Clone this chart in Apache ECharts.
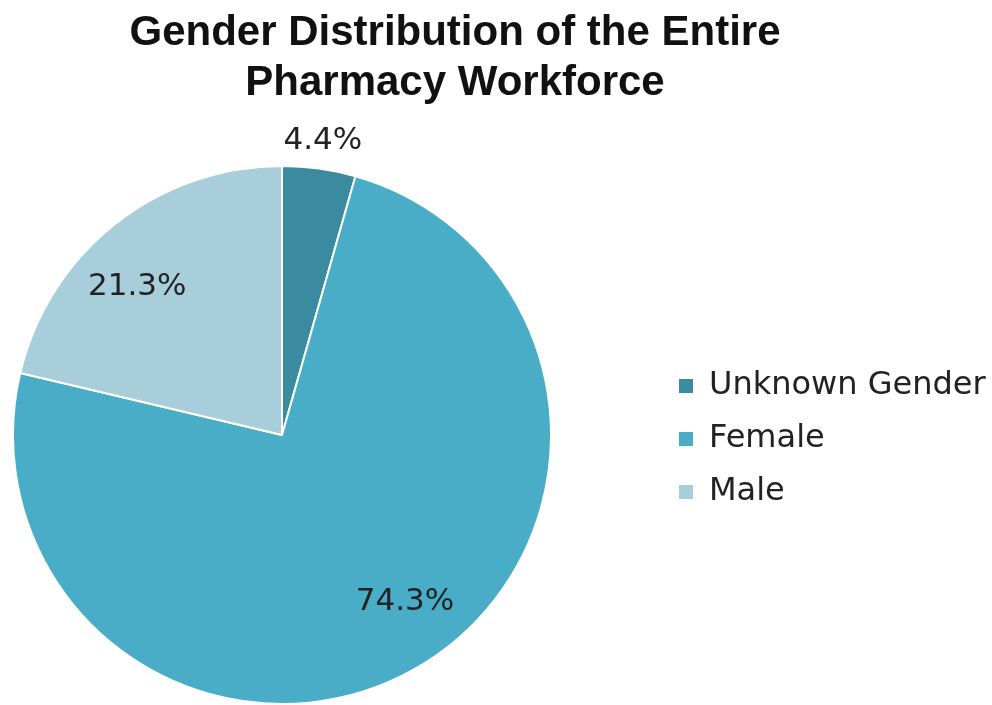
<!DOCTYPE html>
<html>
<head>
<meta charset="utf-8">
<script src="https://cdn.jsdelivr.net/npm/echarts@6/dist/echarts.min.js"></script>
<style>
  html, body { margin: 0; padding: 0; background: #fff; }
  #container { width: 992px; height: 705px; }
</style>
</head>
<body>
<div id="container"></div>
<script>
// categories and values (percent)
var categories = ['Unknown Gender', 'Female', 'Male'];
var shares = [4.4, 74.3, 21.3];
var colors = ['#3a8aa0', '#4aadc7', '#a8cedc'];

var cx = 282, cy = 435, R = 269;

var chart = echarts.init(document.getElementById('container'));

var pieData = categories.map(function (name, i) {
    return { name: name, value: shares[i], itemStyle: { color: colors[i] } };
});

chart.setOption({
    animation: false,
    title: {
        text: 'Gender Distribution of the Entire\nPharmacy Workforce',
        left: 450,
        textAlign: 'center',
        top: 3,
        textStyle: {
            fontFamily: 'Liberation Sans',
            fontWeight: 'bold',
            fontSize: 42,
            lineHeight: 50,
            color: '#111'
        }
    },
    legend: {
        orient: 'vertical',
        left: 677,
        top: 368,
        padding: 0,
        itemWidth: 16,
        itemHeight: 16,
        itemGap: 17,
        icon: 'rect',
        textStyle: { fontFamily: 'DejaVu Sans', fontSize: 32, color: '#222', lineHeight: 36, padding: [0, 0, 0, 10] },
        data: categories
    },
    series: [{
        type: 'pie',
        center: [cx, cy],
        radius: R,
        startAngle: 90,
        clockwise: true,
        itemStyle: { borderColor: '#fff', borderWidth: 2 },
        labelLine: { show: false },
        label: {
            show: true,
            position: 'inside',
            formatter: '{c}%',
            fontFamily: 'DejaVu Sans',
            fontSize: 31,
            color: '#222'
        },
        labelLayout: function (p) {
            // move labels along (roughly) their radial direction
            var lx = p.labelRect.x + p.labelRect.width / 2;
            var ly = p.labelRect.y + p.labelRect.height / 2;
            var a = Math.atan2(ly - cy, lx - cx);
            var dist = R + 28;
            if (p.dataIndex !== 0) {
                dist = R * 0.77;
                a -= 6 * Math.PI / 180;
            }
            return { x: cx + Math.cos(a) * dist, y: cy + Math.sin(a) * dist };
        },
        data: pieData
    }]
});
</script>
</body>
</html>
